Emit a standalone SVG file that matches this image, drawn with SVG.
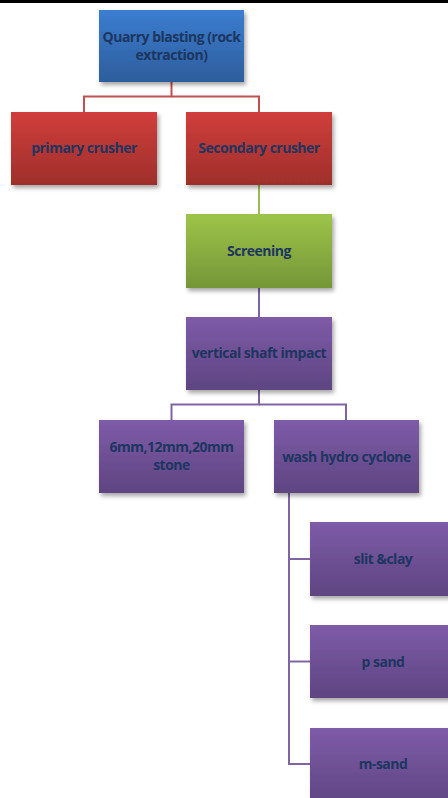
<svg xmlns="http://www.w3.org/2000/svg" width="448" height="798" viewBox="0 0 448 798">
<defs>
<linearGradient id="gBlue" x1="0" y1="0" x2="0" y2="1"><stop offset="0" stop-color="#3b7dd0"/><stop offset="1" stop-color="#2d5d9c"/></linearGradient>
<linearGradient id="gRed" x1="0" y1="0" x2="0" y2="1"><stop offset="0" stop-color="#d03e3b"/><stop offset="1" stop-color="#9e2f2b"/></linearGradient>
<linearGradient id="gGreen" x1="0" y1="0" x2="0" y2="1"><stop offset="0" stop-color="#9dc449"/><stop offset="1" stop-color="#759638"/></linearGradient>
<linearGradient id="gPurple" x1="0" y1="0" x2="0" y2="1"><stop offset="0" stop-color="#7e5ba8"/><stop offset="1" stop-color="#5e4581"/></linearGradient>
<filter id="sh" x="-10%" y="-10%" width="130%" height="140%"><feDropShadow dx="2" dy="3" stdDeviation="2" flood-color="#000" flood-opacity="0.35"/></filter>
</defs>
<style>
.t{font-family:"Open Sans","Liberation Sans",sans-serif;font-weight:bold;font-size:14px;fill:#1d3660;text-anchor:middle;letter-spacing:-0.5px}
.c{fill:none;stroke-width:2}
</style>
<rect x="0" y="0" width="448" height="3" fill="#000"/>
<g id="connectors">
<polyline class="c" stroke="#c0504d" points="171.5,82 171.5,96.5 84,96.5 84,112"/>
<polyline class="c" stroke="#c0504d" points="171.5,96.5 259,96.5 259,112"/>
<line class="c" stroke="#9bbb59" x1="259" y1="185" x2="259" y2="214"/>
<line class="c" stroke="#8064a2" x1="259" y1="288" x2="259" y2="317"/>
<polyline class="c" stroke="#8064a2" points="259,390 259,404.5 171.5,404.5 171.5,420"/>
<polyline class="c" stroke="#8064a2" points="259,404.5 346,404.5 346,420"/>
<polyline class="c" stroke="#8064a2" points="289,493 289,764 310,764"/>
<line class="c" stroke="#8064a2" x1="289" y1="559" x2="310" y2="559"/>
<line class="c" stroke="#8064a2" x1="289" y1="661.5" x2="310" y2="661.5"/>
</g>
<g id="quarry"><rect x="99" y="10" width="145" height="72" fill="url(#gBlue)" filter="url(#sh)"/><text class="t" x="171.5" y="42">Quarry blasting (rock</text><text class="t" x="171.5" y="60">extraction)</text></g>
<g id="primary"><rect x="11" y="112" width="146" height="73" fill="url(#gRed)" filter="url(#sh)"/><text class="t" x="84" y="153">primary crusher</text></g>
<g id="secondary"><rect x="186" y="112" width="146" height="73" fill="url(#gRed)" filter="url(#sh)"/><text class="t" x="259" y="153">Secondary crusher</text></g>
<g id="screening"><rect x="186" y="214" width="146" height="74" fill="url(#gGreen)" filter="url(#sh)"/><text class="t" x="259" y="256">Screening</text></g>
<g id="vsi"><rect x="186" y="317" width="146" height="73" fill="url(#gPurple)" filter="url(#sh)"/><text class="t" x="259" y="358">vertical shaft impact</text></g>
<g id="stone"><rect x="99" y="420" width="145" height="73" fill="url(#gPurple)" filter="url(#sh)"/><text class="t" x="171.5" y="452">6mm,12mm,20mm</text><text class="t" x="171.5" y="470">stone</text></g>
<g id="wash"><rect x="274" y="420" width="145" height="73" fill="url(#gPurple)" filter="url(#sh)"/><text class="t" x="346.5" y="462">wash hydro cyclone</text></g>
<g id="slit"><rect x="310" y="522" width="146" height="74" fill="url(#gPurple)" filter="url(#sh)"/><text class="t" x="383" y="564">slit &amp;clay</text></g>
<g id="psand"><rect x="310" y="625" width="146" height="73" fill="url(#gPurple)" filter="url(#sh)"/><text class="t" x="383" y="667">p sand</text></g>
<g id="msand"><rect x="310" y="728" width="146" height="80" fill="url(#gPurple)" filter="url(#sh)"/><text class="t" x="383" y="769">m-sand</text></g>
</svg>
